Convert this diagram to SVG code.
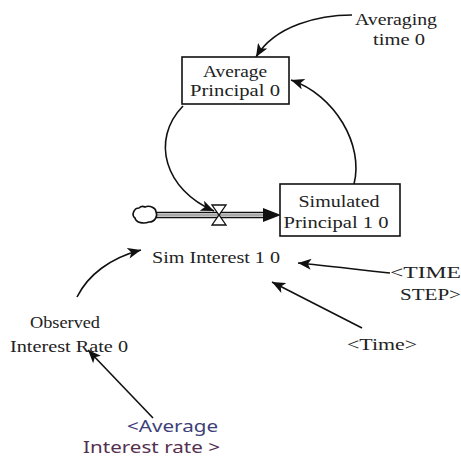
<svg xmlns="http://www.w3.org/2000/svg" width="461" height="457" viewBox="0 0 461 457">
<defs>
<style>
.t{font-family:"Liberation Serif","Times New Roman",serif;font-size:16px;fill:#222;}
.b{font-family:"Liberation Serif","Times New Roman",serif;font-size:16px;fill:#111;font-weight:bold;}
.s{font-family:"Noto Sans","Open Sans",sans-serif;font-size:16px;}
.box{fill:#fff;stroke:#111;stroke-width:1.6;}
.c{fill:none;stroke:#111;stroke-width:1.6;}
</style>
<marker id="ah" viewBox="0 0 12 10" refX="12" refY="5" markerWidth="14" markerHeight="11" markerUnits="userSpaceOnUse" orient="auto">
<path d="M0,0 L12,5 L0,10 L3,5 z" fill="#111"/>
</marker>
</defs>
<rect width="461" height="457" fill="#fff"/>
<g id="connectors">
<path class="c" d="M352,15 C320,15 275,25 256,57" marker-end="url(#ah)"/>
<path class="c" d="M354,184 C364,145 335,95 291,80" marker-end="url(#ah)"/>
<path class="c" d="M183,106 C150,140 165,190 214,211" marker-end="url(#ah)"/>
<path class="c" d="M77,297 C88,275 110,258 141,250" marker-end="url(#ah)"/>
<path class="c" d="M390,273 C360,270 330,266 298,263" marker-end="url(#ah)"/>
<path class="c" d="M362,328 L272,282" marker-end="url(#ah)"/>
<path class="c" d="M153,418 L88,350" marker-end="url(#ah)"/>
</g>
<g id="flow">
<path d="M156,212.5 L266,212.5 M156,217.5 L266,217.5" stroke="#111" stroke-width="1.6" fill="none"/>
<path d="M156,215 L266,215" stroke="#555" stroke-width="1" fill="none"/>
<path d="M263,208 L281,215 L263,222 z" fill="#111"/>
<path d="M145,207 C150,205 156,208 156,212 C158,216 155,222 149,222 C144,224 136,223 135,218 C131,215 134,208 139,208 C141,206 143,206 145,207 z" fill="#fff" stroke="#111" stroke-width="1.6"/>
<path d="M212,205 L226,205 L219,215 z M212,225 L226,225 L219,215 z" fill="#fff" stroke="#111" stroke-width="1.3"/>
</g>
<g id="average-principal">
<rect class="box" x="182" y="57" width="107" height="47"/>
<text class="t" x="235" y="77" text-anchor="middle" textLength="64" lengthAdjust="spacingAndGlyphs">Average</text>
<text class="t" x="235" y="96" text-anchor="middle" textLength="90" lengthAdjust="spacingAndGlyphs">Principal 0</text>
</g>
<g id="simulated-principal">
<rect class="box" x="280" y="184" width="120" height="52"/>
<text class="t" x="339" y="207" text-anchor="middle" textLength="81" lengthAdjust="spacingAndGlyphs">Simulated</text>
<text class="t" x="336" y="228" text-anchor="middle" textLength="105" lengthAdjust="spacingAndGlyphs">Principal 1 0</text>
</g>
<g id="averaging-time">
<text class="t" x="396" y="25" text-anchor="middle" textLength="82" lengthAdjust="spacingAndGlyphs">Averaging</text>
<text class="t" x="399" y="45" text-anchor="middle" textLength="52" lengthAdjust="spacingAndGlyphs">time 0</text>
</g>
<g id="sim-interest">
<text class="t" x="216" y="263" text-anchor="middle" textLength="128" lengthAdjust="spacingAndGlyphs">Sim Interest 1 0</text>
</g>
<g id="observed-interest-rate">
<text class="t" x="65" y="328" text-anchor="middle" textLength="70" lengthAdjust="spacingAndGlyphs">Observed</text>
<text class="t" x="69" y="352" text-anchor="middle" textLength="118" lengthAdjust="spacingAndGlyphs">Interest Rate 0</text>
</g>
<g id="time-step">
<text class="t" x="390" y="278" textLength="71" lengthAdjust="spacingAndGlyphs">&lt;TIME</text>
<text class="t" x="400" y="300" textLength="61" lengthAdjust="spacingAndGlyphs">STEP&gt;</text>
</g>
<g id="time">
<text class="t" x="347" y="350" textLength="70" lengthAdjust="spacingAndGlyphs">&lt;Time&gt;</text>
</g>
<g id="average-interest-rate">
<text class="s" x="127" y="432" fill="#3d3f78" textLength="91" lengthAdjust="spacingAndGlyphs">&lt;Average</text>
<text class="s" x="83" y="453" fill="#553050" textLength="137" lengthAdjust="spacingAndGlyphs">Interest rate &gt;</text>
</g>
</svg>
